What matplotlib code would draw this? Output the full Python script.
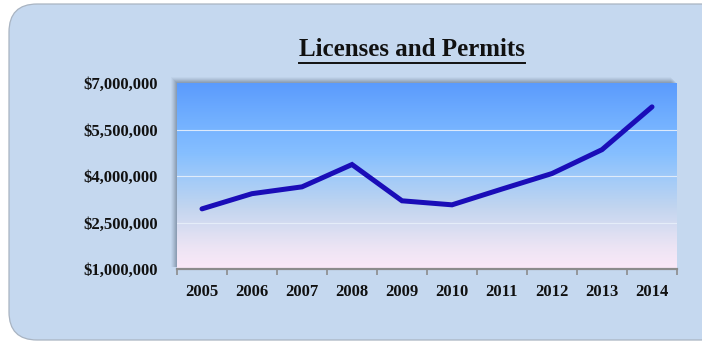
import matplotlib
matplotlib.use("Agg")
import matplotlib.pyplot as plt
import numpy as np
from matplotlib.colors import LinearSegmentedColormap
from matplotlib.patches import FancyBboxPatch, Rectangle
from matplotlib.ticker import FuncFormatter, FixedLocator

years = ["2005", "2006", "2007", "2008", "2009", "2010", "2011", "2012", "2013", "2014"]
revenue = [2940000, 3430000, 3650000, 4370000, 3200000, 3070000, 3580000, 4080000, 4850000, 6230000]
y_ticks = [1000000, 2500000, 4000000, 5500000, 7000000]

FONT = ["Liberation Serif", "DejaVu Serif"]
BG = "#c5d8ef"

fig = plt.figure(figsize=(7.02, 3.41), dpi=100)
fig.patch.set_facecolor("white")

# rounded light-blue panel, running off the right edge
panel = FancyBboxPatch((9 / 702, 1 / 341), 720 / 702, 336 / 341,
                       boxstyle="round,pad=0,rounding_size=0.04",
                       transform=fig.transFigure, facecolor=BG,
                       edgecolor="#a9b4c2", linewidth=0.9, zorder=0,
                       mutation_aspect=702 / 341)
fig.patches.append(panel)

left, bottom, width, height = 177 / 702, 72 / 341, 500 / 702, 186 / 341

# soft drop shadow on the top/left of the plot area
for i, a in enumerate([0.10, 0.10, 0.09, 0.08, 0.06, 0.04]):
    off = (i + 1) / 702
    offy = (i + 1) / 341
    fig.patches.append(Rectangle((left - off, bottom + 2 / 341), width, height + offy - 2 / 341,
                                 transform=fig.transFigure, facecolor="#3a4a5c",
                                 alpha=a, edgecolor="none", zorder=0.5))

ax = fig.add_axes([left, bottom, width, height], zorder=2)

# vertical gradient fill of the plot area
cmap = LinearSegmentedColormap.from_list(
    "sky", [(0.0, "#fbe9f8"), (0.12, "#ece4f4"), (0.33, "#c2d5ef"),
            (0.48, "#a3cbf8"), (0.62, "#86bfff"), (0.80, "#72b0ff"), (1.0, "#5b9bfd")])
grad = np.linspace(0, 1, 256).reshape(-1, 1)
ax.imshow(grad, cmap=cmap, aspect="auto", origin="lower",
          extent=[0, 1, 0, 1], transform=ax.transAxes, zorder=0)

x = np.arange(len(years))
ax.set_xlim(-0.5, len(years) - 0.5)
ax.set_ylim(y_ticks[0], y_ticks[-1])

for v in y_ticks[1:-1]:
    ax.axhline(v, color="#e8f0fb", linewidth=0.8, alpha=0.9, zorder=1)

ax.plot(x, revenue, color="#1a0db8", linewidth=3.6, solid_capstyle="round",
        solid_joinstyle="miter", zorder=3)

for s in ["top", "right", "left"]:
    ax.spines[s].set_visible(False)
ax.spines["bottom"].set_color("#8c8c8c")
ax.spines["bottom"].set_linewidth(1.6)

ax.yaxis.set_major_locator(FixedLocator(y_ticks))
ax.yaxis.set_major_formatter(FuncFormatter(lambda v, p: f"${v:,.0f}"))
ax.tick_params(axis="y", length=0, pad=14)

ax.set_xticks(x)
ax.set_xticklabels(years)
ax.set_xticks(np.arange(-0.5, len(years)), minor=True)
ax.tick_params(axis="x", which="major", length=0, pad=11)
ax.tick_params(axis="x", which="minor", length=4, width=1.2, color="#8c8c8c")

for lbl in ax.get_xticklabels() + ax.get_yticklabels():
    lbl.set_family(FONT)
    lbl.set_fontweight("bold")
    lbl.set_fontsize(12)
    lbl.set_color("#111111")

title = fig.text(412 / 702, 1 - 50 / 341, "Licenses and Permits", ha="center", va="center",
                 family=FONT, fontweight="bold", fontsize=18, color="#111111")

# underline beneath the title
fig.canvas.draw()
bb = title.get_window_extent()
fig.add_artist(plt.Line2D([bb.x0 / 702, bb.x1 / 702], [(bb.y0 - 1) / 341] * 2,
                          transform=fig.transFigure, color="#111111", linewidth=1.4))

fig.savefig("out.png", dpi=100, facecolor=fig.get_facecolor())
